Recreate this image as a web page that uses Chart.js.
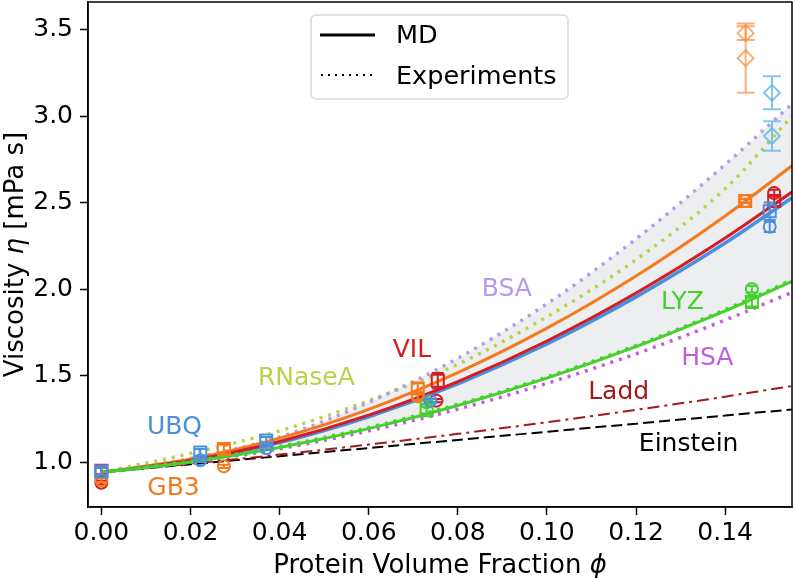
<!DOCTYPE html>
<html>
<head>
<meta charset="utf-8">
<script src="https://cdn.jsdelivr.net/npm/chart.js@4.4.1/dist/chart.umd.min.js"></script>
<style>
  html, body { margin: 0; padding: 0; background: #fff; }
  canvas { display: block; }
</style>
</head>
<body>
<canvas id="chart" width="796" height="578"></canvas>
<script>
//---------------- data ----------------
var phi = [0, 0.02, 0.04, 0.06, 0.08, 0.10, 0.12, 0.14, 0.155];

var einstein = [0.94, 0.987, 1.034, 1.081, 1.128, 1.175, 1.222, 1.269, 1.304];
var ladd     = [0.94, 0.990, 1.043, 1.101, 1.163, 1.230, 1.302, 1.378, 1.440];

// experiments (dotted)
var bsaExp   = [0.94, 1.020, 1.145, 1.345, 1.600, 1.915, 2.290, 2.720, 3.070];
var rnaseExp = [0.94, 1.050, 1.180, 1.355, 1.565, 1.840, 2.170, 2.580, 3.000];
var hsaExp   = [0.94, 0.997, 1.077, 1.180, 1.306, 1.455, 1.626, 1.821, 1.981];
var lyzExp   = [0.94, 1.003, 1.088, 1.198, 1.332, 1.490, 1.672, 1.879, 2.050];

// MD fits (solid)
var gb3Md = [0.94, 1.017, 1.138, 1.305, 1.517, 1.774, 2.076, 2.423, 2.713];
var vilMd = [0.94, 1.009, 1.119, 1.271, 1.465, 1.700, 1.977, 2.295, 2.561];
var ubqMd = [0.94, 1.006, 1.113, 1.262, 1.452, 1.683, 1.955, 2.266, 2.528];
var lyzMd = [0.94, 1.000, 1.084, 1.193, 1.327, 1.485, 1.667, 1.874, 2.045];

// MD points: squares and circles with error bars
var ubqSqPhi = [0, 0.0222, 0.037, 0.150],   ubqSqEta = [0.945, 1.055, 1.125, 2.45],  ubqSqErr = [0.02, 0.02, 0.02, 0.05];
var ubqCiPhi = [0.0222, 0.037, 0.0738, 0.150], ubqCiEta = [1.01, 1.08, 1.355, 2.36], ubqCiErr = [0.01, 0.01, 0.01, 0.03];
var gb3SqPhi = [0.0275, 0.071, 0.1445],     gb3SqEta = [1.075, 1.425, 2.51],         gb3SqErr = [0.025, 0.03, 0.012];
var gb3CiPhi = [0, 0.0275, 0.071, 0.1445],  gb3CiEta = [0.895, 0.975, 1.38, 2.51],   gb3CiErr = [0.01, 0.01, 0.02, 0.01];
var vilSqPhi = [0, 0.0755, 0.151],          vilSqEta = [0.95, 1.47, 2.51],           vilSqErr = [0.02, 0.045, 0.03];
var vilCiPhi = [0, 0.0752, 0.151],          vilCiEta = [0.88, 1.355, 2.555],         vilCiErr = [0.01, 0.01, 0.02];
var lyzSqPhi = [0.073, 0.146],              lyzSqEta = [1.30, 1.925],                lyzSqErr = [0.02, 0.025];
var lyzCiPhi = [0.073, 0.146],              lyzCiEta = [1.345, 2.0],                 lyzCiErr = [0.01, 0.02];

// experimental points at high concentration (diamonds)
var expOrPhi = [0.1446, 0.1446], expOrEta = [3.48, 3.335], expOrErr = [0.04, 0.2];
var expSkPhi = [0.1505, 0.1505], expSkEta = [3.135, 2.885], expSkErr = [0.095, 0.085];

// text labels in the plot
var labelText  = ['UBQ', 'GB3', 'RNaseA', 'VIL', 'BSA', 'LYZ', 'HSA', 'Ladd', 'Einstein'];
var labelPhi   = [0.0164, 0.0162, 0.046, 0.0697, 0.091, 0.1304, 0.136, 0.1161, 0.1318];
var labelEta   = [1.202, 0.847, 1.483, 1.644, 2.0, 1.923, 1.601, 1.404, 1.102];

var xTicksMin = -0.003, xTicksMax = 0.155, yTicksMin = 0.74, yTicksMax = 3.66;

//---------------- colours ----------------
var C = {
  ubq: '#4a8fe0', gb3: '#f57a1e', vil: '#d41c22', lyz: '#45d12b',
  bsa: '#b69be6', rnase: '#b9d246', hsa: '#c25ce0', ladd: '#a31a1a',
  expOr: 'rgba(246,140,60,0.7)', expSk: 'rgba(95,185,228,0.8)'
};
var labelColor = [C.ubq, C.gb3, C.rnase, C.vil, C.bsa, C.lyz, C.hsa, C.ladd, '#000'];
var FONT = 'DejaVu Sans';

var pts = function (xs, ys) {
  return xs.map(function (x, i) { return { x: x, y: ys[i] }; });
};

var curve = function (vals, color, dash, width, order, extra) {
  var d = {
    data: pts(phi, vals), borderColor: color, borderWidth: width, borderDash: dash,
    pointRadius: 0, fill: false, cubicInterpolationMode: 'monotone', order: order
  };
  if (extra) { Object.keys(extra).forEach(function (k) { d[k] = extra[k]; }); }
  return d;
};

var marks = function (xs, ys, errs, color, style, radius, cap) {
  return {
    data: pts(xs, ys), errs: errs, capHalf: cap, showLine: false,
    borderColor: color, backgroundColor: 'rgba(0,0,0,0)', pointBorderColor: color,
    pointBackgroundColor: 'rgba(0,0,0,0)', pointStyle: style, pointRadius: radius,
    pointBorderWidth: 2, order: 1
  };
};

var dots = [3, 6];
var datasets = [
  curve(bsaExp, C.bsa, dots, 3.5, 20, { fill: { target: 10 }, backgroundColor: '#eceef0' }), // 0
  curve(einstein, '#000', [11, 5], 2, 30),            // 1
  curve(ladd, C.ladd, [12, 5, 3, 5], 2, 29),          // 2
  curve(rnaseExp, C.rnase, dots, 3.5, 21),            // 3
  curve(hsaExp, C.hsa, dots, 3.5, 22),                // 4
  curve(gb3Md, C.gb3, [], 3, 15),                     // 5
  curve(ubqMd, C.ubq, [], 3.5, 14),                   // 6
  curve(vilMd, C.vil, [], 3, 13),                     // 7
  curve(lyzExp, C.lyz, dots, 4, 11),                  // 8
  marks(expOrPhi, expOrEta, expOrErr, C.expOr, 'rectRot', 8, 9), // 9
  curve(lyzMd, C.lyz, [], 3, 12),                     // 10
  marks(expSkPhi, expSkEta, expSkErr, C.expSk, 'rectRot', 8, 9),
  marks(ubqSqPhi, ubqSqEta, ubqSqErr, C.ubq, 'rect', 8.5, 6),
  marks(ubqCiPhi, ubqCiEta, ubqCiErr, C.ubq, 'circle', 6, 6),
  marks(gb3SqPhi, gb3SqEta, gb3SqErr, C.gb3, 'rect', 8.5, 6),
  marks(gb3CiPhi, gb3CiEta, gb3CiErr, C.gb3, 'circle', 6, 6),
  marks(lyzSqPhi, lyzSqEta, lyzSqErr, C.lyz, 'rect', 8.5, 6),
  marks(lyzCiPhi, lyzCiEta, lyzCiErr, C.lyz, 'circle', 6, 6),
  marks(vilSqPhi, vilSqEta, vilSqErr, C.vil, 'rect', 8.5, 6),
  marks(vilCiPhi, vilCiEta, vilCiErr, C.vil, 'circle', 6, 6)
];

//---------------- helpers / plugins ----------------
// draw a run of text parts (some italic) centred on x
var drawParts = function (ctx, parts, x, y, size) {
  var total = 0;
  parts.forEach(function (p) {
    ctx.font = (p.it ? 'italic ' : '') + size + 'px "' + FONT + '"';
    p.w = ctx.measureText(p.t).width; total += p.w;
  });
  var cx = x - total / 2;
  ctx.textAlign = 'left'; ctx.textBaseline = 'middle';
  parts.forEach(function (p) {
    ctx.font = (p.it ? 'italic ' : '') + size + 'px "' + FONT + '"';
    ctx.fillText(p.t, cx, y); cx += p.w;
  });
};

var errorBars = {
  id: 'errorBars',
  afterDatasetDraw: function (chart, args) {
    var ds = chart.data.datasets[args.index];
    if (!ds.errs) return;
    var xs = chart.scales.x, ys = chart.scales.y, ctx = chart.ctx, cap = ds.capHalf;
    ctx.save();
    ctx.strokeStyle = ds.borderColor; ctx.lineWidth = 2;
    ds.data.forEach(function (p, i) {
      var px = xs.getPixelForValue(p.x);
      var top = ys.getPixelForValue(p.y + ds.errs[i]), bot = ys.getPixelForValue(p.y - ds.errs[i]);
      ctx.beginPath();
      ctx.moveTo(px, top); ctx.lineTo(px, bot);
      ctx.moveTo(px - cap, top); ctx.lineTo(px + cap, top);
      ctx.moveTo(px - cap, bot); ctx.lineTo(px + cap, bot);
      ctx.stroke();
    });
    ctx.restore();
  }
};

var decorations = {
  id: 'decorations',
  afterDraw: function (chart) {
    var ctx = chart.ctx, a = chart.chartArea, xs = chart.scales.x, ys = chart.scales.y;
    ctx.save();
    // labels
    ctx.textAlign = 'center'; ctx.textBaseline = 'middle';
    ctx.font = '25px "' + FONT + '"';
    labelText.forEach(function (t, i) {
      ctx.fillStyle = labelColor[i];
      ctx.fillText(t, xs.getPixelForValue(labelPhi[i]), ys.getPixelForValue(labelEta[i]));
    });
    // frame
    ctx.strokeStyle = '#000'; ctx.lineWidth = 1.5;
    ctx.strokeRect(a.left, a.top, a.right - a.left, a.bottom - a.top);
    // legend
    var bx = 311, by = 15, bw = 257, bh = 84;
    ctx.fillStyle = 'rgba(255,255,255,0.8)';
    ctx.strokeStyle = '#d9d9d9'; ctx.lineWidth = 1.5;
    ctx.beginPath(); ctx.roundRect(bx, by, bw, bh, 5); ctx.fill(); ctx.stroke();
    ctx.strokeStyle = '#000';
    ctx.lineWidth = 3; ctx.setLineDash([]);
    ctx.beginPath(); ctx.moveTo(320, 35); ctx.lineTo(375, 35); ctx.stroke();
    ctx.lineWidth = 2; ctx.setLineDash([2, 5]);
    ctx.beginPath(); ctx.moveTo(321, 75); ctx.lineTo(375, 75); ctx.stroke();
    ctx.setLineDash([]);
    ctx.fillStyle = '#000'; ctx.textAlign = 'left';
    ctx.font = '25.5px "' + FONT + '"';
    ctx.fillText('MD', 396, 36);
    ctx.fillText('Experiments', 396, 77);
    // axis titles
    drawParts(ctx, [{ t: 'Protein Volume Fraction ' }, { t: 'ϕ', it: true }], (a.left + a.right) / 2, 566, 26);
    ctx.translate(16, (a.top + a.bottom) / 2);
    ctx.rotate(-Math.PI / 2);
    drawParts(ctx, [{ t: 'Viscosity ' }, { t: 'η', it: true }, { t: ' [mPa s]' }], 0, 0, 26);
    ctx.restore();
  }
};

var tickFont = { family: FONT, size: 25 };

new Chart(document.getElementById('chart').getContext('2d'), {
  type: 'line',
  data: { datasets: datasets },
  plugins: [errorBars, decorations],
  options: {
    responsive: false, animation: false, devicePixelRatio: 1,
    layout: { autoPadding: false, padding: { top: 2, right: 4, left: 0, bottom: 0 } },
    plugins: {
      legend: { display: false }, tooltip: { enabled: false },
      filler: { drawTime: 'beforeDatasetsDraw' }
    },
    scales: {
      x: {
        type: 'linear', min: xTicksMin, max: xTicksMax,
        afterFit: function (s) { s.height = 71; s.paddingLeft = 0; s.paddingRight = 0; },
        ticks: {
          stepSize: 0.02, includeBounds: false, autoSkip: false, maxRotation: 0,
          callback: function (v) { return v.toFixed(2); },
          font: tickFont, color: '#000', padding: 3
        },
        grid: { drawOnChartArea: false, tickLength: 8, tickWidth: 1.5, tickColor: '#000' },
        border: { color: '#000', width: 1.5 }
      },
      y: {
        type: 'linear', min: yTicksMin, max: yTicksMax,
        afterFit: function (s) { s.width = 88; s.paddingTop = 0; s.paddingBottom = 0; },
        ticks: {
          stepSize: 0.5, includeBounds: false,
          callback: function (v) { return v.toFixed(1); },
          font: tickFont, color: '#000', padding: 7
        },
        grid: { drawOnChartArea: false, tickLength: 8, tickWidth: 1.5, tickColor: '#000' },
        border: { color: '#000', width: 1.5 }
      }
    }
  }
});
</script>
</body>
</html>
